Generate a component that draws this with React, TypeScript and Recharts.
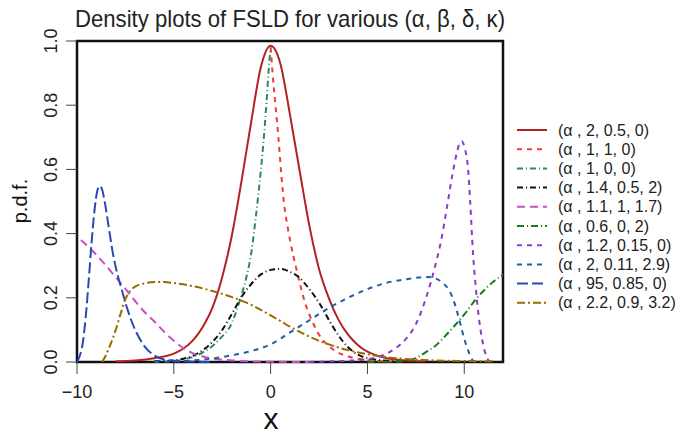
import React from "react";
import { LineChart, Line, XAxis, YAxis, ReferenceArea } from "recharts";

type Pt = { x: number; y: number };
const pts = (rows: number[][]): Pt[] => rows.map(([x, y]) => ({ x, y }));

const X_TICKS = [-10, -5, 0, 5, 10];
const Y_TICKS = [0, 0.2, 0.4, 0.6, 0.8, 1.0];

const LEGEND_LABELS = [
  "(α , 2, 0.5, 0)",
  "(α , 1, 1, 0)",
  "(α , 1, 0, 0)",
  "(α , 1.4, 0.5, 2)",
  "(α , 1.1, 1, 1.7)",
  "(α , 0.6, 0, 2)",
  "(α , 1.2, 0.15, 0)",
  "(α , 2, 0.11, 2.9)",
  "(α , 95, 0.85, 0)",
  "(α , 2.2, 0.9, 3.2)",
];

// values
const redSolid = pts([
  [-8, 0.002], [-7, 0.005], [-6, 0.012], [-5, 0.026], [-4.5, 0.042], [-4, 0.068],
  [-3.5, 0.11], [-3, 0.17], [-2.5, 0.265], [-2, 0.395], [-1.5, 0.565], [-1, 0.75],
  [-0.5, 0.92], [0, 0.985], [0.5, 0.93], [1, 0.77], [1.5, 0.595], [2, 0.425],
  [2.5, 0.29], [3, 0.2], [3.5, 0.132], [4, 0.085], [4.5, 0.053], [5, 0.032],
  [5.5, 0.02], [6, 0.012], [7, 0.005], [8, 0.002],
]);

const redDashed = pts([
  [0, 0.98], [0.1, 0.9], [0.25, 0.8], [0.4, 0.7], [0.55, 0.585], [0.7, 0.49],
  [0.85, 0.43], [1, 0.38], [1.33, 0.29], [1.75, 0.19], [2.2, 0.12], [2.5, 0.085],
  [3, 0.05], [3.6, 0.026], [4.2, 0.014], [5, 0.006], [6, 0.002], [7, 0.001],
]);

const seaGreen = pts([
  [-5, 0.003], [-4.5, 0.008], [-4, 0.016], [-3.5, 0.03], [-3, 0.05], [-2.5, 0.08],
  [-2.1, 0.11], [-1.6, 0.19], [-1.25, 0.265], [-1, 0.34], [-0.75, 0.46], [-0.5, 0.6],
  [-0.35, 0.7], [-0.2, 0.82], [-0.1, 0.91], [0, 0.98],
]);

const black = pts([
  [-6, 0.002], [-5, 0.005], [-4.5, 0.01], [-4, 0.02], [-3.5, 0.037], [-3, 0.063],
  [-2.5, 0.1], [-2, 0.15], [-1.5, 0.203], [-1, 0.243], [-0.5, 0.273], [0, 0.287],
  [0.5, 0.29], [1, 0.281], [1.5, 0.262], [2, 0.227], [2.5, 0.185], [3, 0.132],
  [3.5, 0.083], [4, 0.046], [4.5, 0.023], [5, 0.012], [6, 0.004], [7, 0.001],
]);

const magenta = pts([
  [-9.8, 0.38], [-9.5, 0.364], [-9, 0.334], [-8.5, 0.3], [-8, 0.264], [-7.5, 0.228],
  [-7, 0.19], [-6.5, 0.155], [-6, 0.126], [-5.5, 0.094], [-5, 0.066], [-4.5, 0.043],
  [-4, 0.027], [-3.5, 0.017], [-3, 0.011], [-2, 0.005], [-1, 0.002], [0, 0.001], [2, 0],
]);

const darkGreen = pts([
  [5, 0], [6, 0.001], [7, 0.004], [7.5, 0.012], [8, 0.03], [8.5, 0.05], [9, 0.08],
  [9.5, 0.113], [10, 0.148], [10.5, 0.188], [11, 0.222], [11.5, 0.25], [12, 0.272],
]);

const purple = pts([
  [2, 0], [3, 0.002], [4, 0.004], [5, 0.009], [5.5, 0.015], [6, 0.026], [6.5, 0.045],
  [7, 0.073], [7.5, 0.118], [8, 0.195], [8.5, 0.3], [8.8, 0.377], [9.1, 0.48],
  [9.4, 0.588], [9.6, 0.648], [9.75, 0.68], [9.87, 0.688], [10, 0.672], [10.1, 0.645],
  [10.2, 0.6], [10.3, 0.505], [10.45, 0.34], [10.6, 0.228], [10.75, 0.14],
  [10.9, 0.078], [11.05, 0.035], [11.2, 0.01], [11.3, 0],
]);

const steelBlue = pts([
  [-6, 0], [-5, 0.002], [-4, 0.005], [-3, 0.011], [-2, 0.021], [-1, 0.034], [0, 0.055],
  [1, 0.092], [2, 0.13], [3, 0.168], [4, 0.2], [5, 0.227], [6, 0.247], [7, 0.258],
  [7.5, 0.262], [8, 0.265], [8.3, 0.264], [8.6, 0.258], [8.9, 0.246], [9.2, 0.225],
  [9.4, 0.2], [9.6, 0.163], [9.8, 0.118], [10, 0.072], [10.2, 0.036], [10.4, 0.008],
  [10.55, 0],
]);

const royalBlue = pts([
  [-10, 0], [-9.85, 0.02], [-9.7, 0.06], [-9.55, 0.14], [-9.4, 0.25], [-9.25, 0.37],
  [-9.1, 0.47], [-8.98, 0.525], [-8.85, 0.548], [-8.72, 0.54], [-8.6, 0.51],
  [-8.4, 0.435], [-8.15, 0.34], [-7.9, 0.27], [-7.7, 0.228], [-7.45, 0.175],
  [-7.2, 0.13], [-6.9, 0.088], [-6.5, 0.048], [-6, 0.02], [-5.5, 0.008], [-5, 0.004],
  [-4, 0.001], [-3, 0],
]);

const brown = pts([
  [-8.7, 0], [-8.5, 0.022], [-8.25, 0.058], [-8, 0.1], [-7.75, 0.15], [-7.5, 0.196],
  [-7.25, 0.222], [-7, 0.235], [-6.5, 0.245], [-6, 0.249], [-5.5, 0.249], [-5, 0.246],
  [-4, 0.236], [-3, 0.221], [-2, 0.202], [-1, 0.178], [0, 0.145], [0.5, 0.128],
  [1, 0.11], [1.5, 0.094], [2, 0.079], [2.5, 0.066], [3, 0.055], [3.5, 0.045],
  [4, 0.037], [5, 0.024], [6, 0.015], [7, 0.009], [8, 0.006], [9, 0.004], [10, 0.003],
  [11.5, 0.002],
]);

const SERIES = [redSolid, redDashed, seaGreen, black, magenta, darkGreen, purple, steelBlue, royalBlue, brown];

const STYLES = [
  { color: "#B22222", dash: undefined },
  { color: "#EE3B3B", dash: "5 5" },
  { color: "#2E8B57", dash: "6 3 1 3" },
  { color: "#111111", dash: "6 3 1 3" },
  { color: "#C84FC8", dash: "8 5" },
  { color: "#1A7A1A", dash: "7 3 1 3" },
  { color: "#8A3CC9", dash: "5 5" },
  { color: "#1F5FA6", dash: "5 5" },
  { color: "#2B48B5", dash: "11 4" },
  { color: "#9A6A00", dash: "8 3 2 3" },
];

const FONT = "'Liberation Sans', Arial, sans-serif";

const YTick = (props: any) => {
  const { y, payload } = props;
  return (
    <text x={57} y={y} transform={`rotate(-90 57 ${y})`} textAnchor="middle" fontSize={18} fill="#222" fontFamily={FONT}>
      {Number(payload.value).toFixed(1)}
    </text>
  );
};

export default function App() {
  return (
    <div style={{ position: "absolute", left: 0, top: 0, width: 683, height: 435, background: "#fff", fontFamily: FONT }}>
      <LineChart width={683} height={435} margin={{ top: 41, right: 180, bottom: 0, left: 0 }}>
        <XAxis
          dataKey="x"
          type="number"
          domain={[-10, 12]}
          ticks={X_TICKS}
          interval={0}
          allowDataOverflow
          height={73}
          tickSize={12}
          tickMargin={11}
          axisLine={false}
          tickLine={{ stroke: "#444" }}
          tick={{ fill: "#222", fontSize: 18, fontFamily: FONT }}
          tickFormatter={(v: number) => String(v).replace("-", "\u2212")}
        />
        <YAxis
          type="number"
          domain={[0, 1]}
          ticks={Y_TICKS}
          interval={0}
          width={77}
          tickSize={11}
          axisLine={false}
          tickLine={{ stroke: "#444" }}
          tick={<YTick />}
        />
        {SERIES.map((s, i) => (
          <Line
            key={i}
            data={s}
            dataKey="y"
            type="monotone"
            stroke={STYLES[i].color}
            strokeWidth={2}
            strokeDasharray={STYLES[i].dash}
            dot={false}
            activeDot={false}
            isAnimationActive={false}
          />
        ))}
        <ReferenceArea x1={-10} x2={12} y1={0} y2={1} fill="none" stroke="#111" strokeWidth={2.5} ifOverflow="visible" />
      </LineChart>

      <svg width={683} height={435} style={{ position: "absolute", left: 0, top: 0, pointerEvents: "none" }}>
        <text x={290} y={27} textAnchor="middle" fontSize={24} fill="#222" fontFamily={FONT} textLength={430} lengthAdjust="spacingAndGlyphs">
          Density plots of FSLD for various (α, β, δ, κ)
        </text>
        <text x={271} y={429} textAnchor="middle" fontSize={30} fill="#111" fontFamily={FONT}>x</text>
        <text x={27} y={201} transform="rotate(-90 27 201)" textAnchor="middle" fontSize={20} fill="#111" fontFamily={FONT}>
          p.d.f.
        </text>
        {LEGEND_LABELS.map((label, i) => {
          const y = 130 + i * 19.2;
          return (
            <g key={label}>
              <line x1={517} x2={547} y1={y} y2={y} stroke={STYLES[i].color} strokeWidth={2} strokeDasharray={STYLES[i].dash} />
              <text x={558} y={y + 5.5} fontSize={16} fill="#222" fontFamily={FONT}>{label}</text>
            </g>
          );
        })}
      </svg>
    </div>
  );
}
